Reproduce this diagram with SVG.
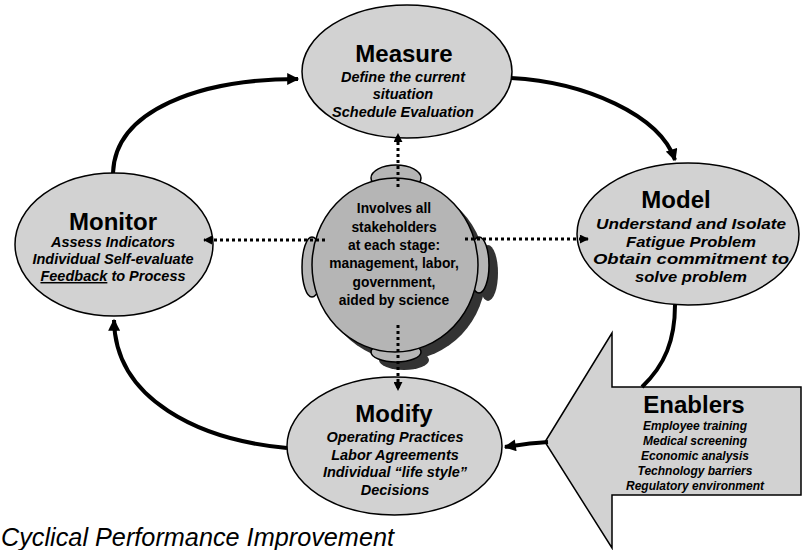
<svg xmlns="http://www.w3.org/2000/svg" width="802" height="550" viewBox="0 0 802 550">
<defs>
  <marker id="ah" viewBox="0 0 10 10" refX="9" refY="5" markerWidth="13" markerHeight="12" markerUnits="userSpaceOnUse" orient="auto">
    <path d="M0,0 L10,5 L0,10 z" fill="#000"/>
  </marker>
  <marker id="dh" viewBox="0 0 10 10" refX="9" refY="5" markerWidth="9" markerHeight="9" markerUnits="userSpaceOnUse" orient="auto">
    <path d="M0,0 L10,5 L0,10 z" fill="#000"/>
  </marker>
</defs>
<style>
  .node { fill: #d2d2d2; stroke: #000; stroke-width: 1.5; }
  .hub { fill: #b5b5b5; stroke: #000; stroke-width: 1.5; }
  .shadow { fill: #333; }
  .title { font-family: "Liberation Sans", Arial, sans-serif; font-weight: bold; font-size: 24px; text-anchor: middle; fill: #000; }
  .sub { font-family: "Liberation Sans", Arial, sans-serif; font-weight: bold; font-style: italic; font-size: 14.5px; text-anchor: middle; fill: #000; }
  .msub { font-family: "Liberation Sans", Arial, sans-serif; font-weight: bold; font-style: italic; font-size: 15px; text-anchor: middle; fill: #000; }
  .hubtxt { font-family: "Liberation Sans", Arial, sans-serif; font-weight: bold; font-size: 13.8px; text-anchor: middle; fill: #000; }
  .small { font-family: "Liberation Sans", Arial, sans-serif; font-weight: bold; font-style: italic; font-size: 12px; text-anchor: middle; fill: #000; }
  .solid { fill: none; stroke: #000; stroke-width: 4; }
  .dotted { fill: none; stroke: #000; stroke-width: 3; stroke-dasharray: 3 3; }
  .caption { font-family: "Liberation Sans", Arial, sans-serif; font-style: italic; font-size: 25px; fill: #000; }
</style>
<rect width="802" height="550" fill="#fff"/>

<g id="enablers">
  <polygon class="node" points="545,442 612,333 612,387 801,387 801,495 612,495 612,548"/>
  <text class="title" x="694" y="413">Enablers</text>
  <text class="small" x="695" y="430">Employee training</text>
  <text class="small" x="695" y="445">Medical screening</text>
  <text class="small" x="695" y="460">Economic analysis</text>
  <text class="small" x="695" y="475">Technology barriers</text>
  <text class="small" x="695" y="490">Regulatory environment</text>
</g>

<g id="measure">
  <ellipse class="node" cx="407" cy="71.5" rx="105" ry="66.5"/>
  <text class="title" x="404" y="62">Measure</text>
  <text class="sub" x="403" y="82">Define the current</text>
  <text class="sub" x="403" y="99">situation</text>
  <text class="sub" x="403" y="117">Schedule Evaluation</text>
</g>

<g id="monitor">
  <ellipse class="node" cx="114" cy="244.5" rx="99" ry="71.5"/>
  <text class="title" x="113" y="230">Monitor</text>
  <text class="sub" x="113" y="247">Assess Indicators</text>
  <text class="sub" x="113" y="264">Individual Self-evaluate</text>
  <text class="sub" x="113" y="281"><tspan text-decoration="underline">Feedback</tspan> to Process</text>
</g>

<g id="model">
  <ellipse class="node" cx="688" cy="234" rx="111" ry="71"/>
  <text class="title" x="676" y="208">Model</text>
  <text class="msub" x="691" y="229" textLength="190" lengthAdjust="spacingAndGlyphs">Understand and Isolate</text>
  <text class="msub" x="691" y="247" textLength="130" lengthAdjust="spacingAndGlyphs">Fatigue Problem</text>
  <text class="msub" x="691" y="264" textLength="196" lengthAdjust="spacingAndGlyphs">Obtain commitment to</text>
  <text class="msub" x="691" y="282" textLength="112" lengthAdjust="spacingAndGlyphs">solve problem</text>
</g>

<g id="modify">
  <ellipse class="node" cx="394.5" cy="446" rx="107.5" ry="69"/>
  <text class="title" x="394" y="422">Modify</text>
  <text class="sub" x="395" y="442">Operating Practices</text>
  <text class="sub" x="395" y="460">Labor Agreements</text>
  <text class="sub" x="395" y="477">Individual “life style”</text>
  <text class="sub" x="395" y="495">Decisions</text>
</g>

<g id="hub">
  <g class="shadow" transform="translate(8,8)">
    <ellipse cx="396" cy="352" rx="25" ry="10"/>
    <ellipse cx="480" cy="265" rx="10" ry="28"/>
    <ellipse cx="395" cy="265" rx="83" ry="87"/>
  </g>
  <ellipse class="hub" cx="396" cy="178" rx="25" ry="13"/>
  <ellipse class="hub" cx="396" cy="352" rx="25" ry="10"/>
  <ellipse class="hub" cx="312" cy="267" rx="10" ry="30"/>
  <ellipse class="hub" cx="479" cy="265" rx="10" ry="28"/>
  <ellipse class="hub" cx="395" cy="265" rx="83" ry="87"/>
  <text class="hubtxt" x="394" y="213">Involves all</text>
  <text class="hubtxt" x="394" y="232">stakeholders</text>
  <text class="hubtxt" x="394" y="250">at each stage:</text>
  <text class="hubtxt" x="394" y="268">management, labor,</text>
  <text class="hubtxt" x="394" y="287">government,</text>
  <text class="hubtxt" x="394" y="305">aided by science</text>
</g>

<g id="connectors">
  <path class="solid" d="M113,173 C115,110 200,79 298,79" marker-end="url(#ah)"/>
  <path class="solid" d="M511,78 C585,82 660,115 675,160" marker-end="url(#ah)"/>
  <path class="solid" d="M675,305 C675,340 665,365 642,387"/>
  <path class="solid" d="M548,442 C530,443 518,445 505,447" marker-end="url(#ah)"/>
  <path class="solid" d="M287,448 C200,440 115,400 114,320" marker-end="url(#ah)"/>
  <path class="dotted" d="M398,187 L398,134" marker-end="url(#dh)"/>
  <path class="dotted" d="M325,240 L204,240" marker-end="url(#dh)"/>
  <path class="dotted" d="M465,239 L588,239" marker-end="url(#dh)"/>
  <path class="dotted" d="M398,325 L398,390" marker-end="url(#dh)"/>
</g>

<text class="caption" x="1" y="546" textLength="393" lengthAdjust="spacingAndGlyphs">Cyclical Performance Improvement</text>
</svg>
